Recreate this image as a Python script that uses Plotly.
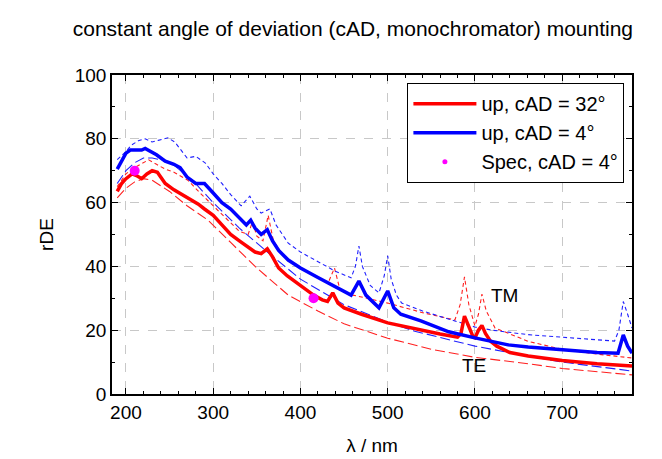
import plotly.graph_objects as go

# red thick: up, cAD = 32 deg
red_x = [190, 195, 200, 207, 212, 218, 224, 230, 236, 245, 255, 265, 275, 283, 290, 300, 310, 320, 330, 340, 348, 355, 362, 368, 375, 385, 395, 405, 415, 425, 431, 437, 443, 450, 470, 500, 530, 560, 580, 584, 588, 593, 598, 600, 604, 608, 612, 618, 625, 640, 661, 700, 740, 780]
red_y = [63.5, 66, 67.5, 69, 68.5, 67.5, 69, 70, 69.5, 66, 64, 62.5, 61, 59.5, 58, 56, 53, 50, 48, 46, 44.5, 44, 45.5, 43, 39.5, 37, 35, 33, 31, 29.5, 29, 31.7, 28.5, 27, 25, 22.3, 20.5, 18.8, 17.8, 19, 24.4, 21, 17.8, 17.6, 20, 21.5, 19, 16.5, 15, 13, 11.9, 10.5, 9.5, 8.8]

# blue thick: up, cAD = 4 deg
blue_x = [190, 195, 200, 205, 212, 218, 222, 228, 235, 245, 255, 262, 270, 280, 290, 300, 310, 320, 330, 338, 343, 348, 355, 362, 368, 375, 386, 400, 420, 440, 458, 467, 475, 490, 500, 507, 515, 538, 570, 600, 638, 661, 700, 740, 764, 770, 775, 780]
blue_y = [70.5, 73, 75.5, 76.5, 76.5, 76.5, 77, 76, 75, 73, 72, 71, 68, 66, 66, 63, 60, 58, 55, 53, 54.5, 52, 50, 51.5, 48, 45, 42, 39.5, 36.5, 33.5, 31, 35.4, 31, 27, 32.3, 27, 25, 22.9, 19.5, 17.6, 15.4, 14.7, 13.8, 13, 12.8, 18.5, 15, 12.8]

# magenta points: Spec, cAD = 4 deg
spec_x = [210, 415]
spec_y = [70, 30]

# thin short-dashed (TM), cAD = 4 deg
tm4_x = [190, 200, 206, 215, 222, 230, 237, 248, 256, 263, 270, 280, 291, 300, 310, 320, 332, 342, 350, 355, 365, 372, 386, 400, 420, 440, 458, 463, 467, 471, 480, 490, 496, 500, 504, 510, 516, 540, 577, 600, 620, 661, 700, 740, 760, 765, 770, 775, 780]
tm4_y = [73.5, 76, 78, 79.5, 80, 79, 79.5, 80.3, 79, 76.5, 74, 74.5, 72.4, 69, 66, 62.5, 59, 62, 58, 56.7, 58, 53, 47.3, 44.5, 41.5, 38.5, 36.4, 40, 46.4, 40, 34, 31.7, 37, 43.3, 36, 31, 28.5, 26, 22.9, 21, 20, 18.6, 17.8, 17, 16.6, 20, 29, 25, 20.7]

# thin short-dashed (TM), cAD = 32 deg
tm32_x = [190, 200, 210, 220, 226, 235, 245, 255, 271, 285, 300, 315, 330, 340, 345, 350, 357, 363, 369, 380, 386, 400, 420, 432, 439, 445, 460, 480, 500, 540, 577, 583, 588, 593, 600, 604, 608, 613, 623, 661, 700, 740, 780]
tm32_y = [65, 69, 71, 72.5, 73.4, 72, 70.5, 69.5, 67, 63, 59, 55, 51, 50, 54, 49.5, 48, 56, 48, 43.5, 41.7, 39.5, 36.5, 35, 39.5, 33, 31, 29.8, 28.5, 25.5, 23.2, 28, 36.7, 28, 21.3, 25, 31.3, 26, 20.7, 16.5, 14, 12.5, 11.3]

# thin long-dashed (TE), cAD = 32 deg
te32_x = [190, 200, 210, 220, 230, 250, 270, 294, 320, 350, 386, 420, 450, 500, 550, 600, 661, 700, 780]
te32_y = [61.5, 64.5, 66.5, 67.5, 67, 63.5, 59, 54.5, 47.5, 39.5, 31, 26, 22, 17.5, 14, 11.5, 9.5, 8, 6]

# thin long-dashed (TE), cAD = 4 deg
te4_x = [190, 200, 210, 220, 230, 246, 256, 277, 300, 330, 360, 400, 450, 500, 531, 600, 661, 700, 780]
te4_y = [66, 70, 72.5, 74, 74, 73, 71.5, 66.8, 60, 52, 45, 36, 28, 22.5, 19.7, 15, 11.9, 10, 7.2]

FONT = "Liberation Sans, Arial, sans-serif"

fig = go.Figure()
fig.add_trace(go.Scatter(x=te32_x, y=te32_y, mode="lines", showlegend=False,
                         line=dict(color="#ff2020", width=1.1, dash="10px,4px")))
fig.add_trace(go.Scatter(x=te4_x, y=te4_y, mode="lines", showlegend=False,
                         line=dict(color="#2020ff", width=1.1, dash="10px,4px")))
fig.add_trace(go.Scatter(x=tm32_x, y=tm32_y, mode="lines", showlegend=False,
                         line=dict(color="#ff2020", width=1.1, dash="4px,3px")))
fig.add_trace(go.Scatter(x=tm4_x, y=tm4_y, mode="lines", showlegend=False,
                         line=dict(color="#2020ff", width=1.1, dash="4px,3px")))
fig.add_trace(go.Scatter(x=red_x, y=red_y, mode="lines", name="up, cAD = 32°",
                         line=dict(color="#ff0000", width=3.5)))
fig.add_trace(go.Scatter(x=blue_x, y=blue_y, mode="lines", name="up, cAD = 4°",
                         line=dict(color="#0000ff", width=3.5)))
fig.add_trace(go.Scatter(x=spec_x, y=spec_y, mode="markers", showlegend=False,
                         marker=dict(color="#ff00ff", size=10)))
# legend entry for the magenta points (small dot as in the reference legend)
fig.add_trace(go.Scatter(x=[None], y=[None], mode="markers", name="Spec, cAD = 4°",
                         marker=dict(color="#ff00ff", size=5)))

fig.add_annotation(x=634, y=31, text="TM", showarrow=False, font=dict(size=19, color="black", family=FONT))
fig.add_annotation(x=599, y=9, text="TE", showarrow=False, font=dict(size=19, color="black", family=FONT))

axis_common = dict(showline=True, linecolor="black", linewidth=1.5, mirror="ticks",
                   ticks="inside", ticklen=6, tickcolor="black", automargin=False,
                   showgrid=True, gridcolor="#c8c8c8", griddash="dash", gridwidth=1,
                   zeroline=False, tickfont=dict(size=19, color="black", family=FONT))
fig.update_xaxes(range=[184, 780], tickvals=[200, 300, 400, 500, 600, 700],
                 minor=dict(dtick=20, tick0=200, ticks="inside", ticklen=3, tickcolor="black", showgrid=False),
                 title=dict(text="λ / nm", font=dict(size=19, color="black", family=FONT), standoff=17),
                 **axis_common)
fig.update_yaxes(range=[0, 100], tickvals=[0, 20, 40, 60, 80, 100],
                 minor=dict(dtick=10, tick0=0, ticks="inside", ticklen=3, tickcolor="black", showgrid=False),
                 title=dict(text="rDE", font=dict(size=19, color="black", family=FONT), standoff=16),
                 **axis_common)

fig.update_layout(
    width=662, height=459,
    margin=dict(l=104, r=38, t=67, b=73),
    paper_bgcolor="white", plot_bgcolor="white",
    font=dict(family=FONT, color="black", size=19),
    title=dict(text="constant angle of deviation (cAD, monochromator) mounting",
               xref="container", x=0.521, xanchor="center", y=0.956, yanchor="middle",
               font=dict(size=21, color="black", family=FONT)),
    legend=dict(x=0.985, xanchor="right", y=0.975, yanchor="top",
                bordercolor="black", borderwidth=1.2, bgcolor="white",
                font=dict(size=20, color="black", family=FONT),
                tracegroupgap=0, itemwidth=63),
    showlegend=True,
)

fig.write_html("out.html")
